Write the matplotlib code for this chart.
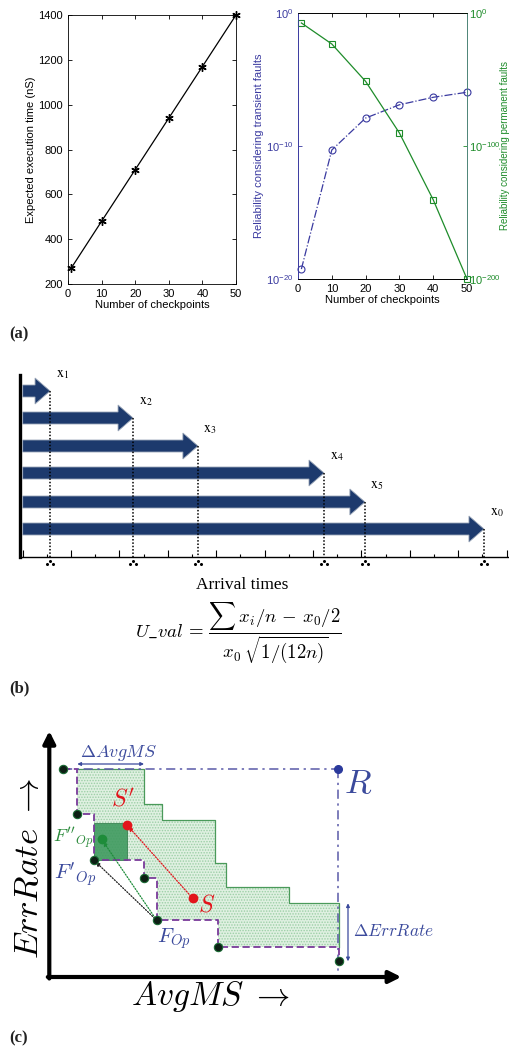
import numpy as np
import matplotlib
matplotlib.use("Agg")
import matplotlib.pyplot as plt
from matplotlib.patches import FancyArrow, Polygon, Rectangle
from matplotlib.ticker import FixedLocator, NullLocator, LogFormatterSciNotation

plt.rcParams["font.family"] = ["Liberation Sans", "DejaVu Sans"]
plt.rcParams["font.size"] = 8
plt.rcParams["mathtext.fontset"] = "custom"
plt.rcParams["mathtext.rm"] = "Liberation Sans"
plt.rcParams["mathtext.it"] = "Liberation Sans:italic"
plt.rcParams["hatch.linewidth"] = 0.7

# ---------------- data: panel (a) ----------------
checkpoints = [1, 10, 20, 30, 40, 50]
exec_time_ns = [272, 480, 710, 940, 1170, 1400]
rel_transient = [5.6e-20, 5.0e-11, 1.26e-8, 1.26e-7, 4.6e-7, 1.1e-6]
rel_permanent = [3.2e-8, 5.0e-24, 4.0e-52, 6.3e-91, 4.0e-141, 1e-200]

# ---------------- data: panel (b) ----------------
arrival_labels = ["1", "2", "3", "4", "5", "0"]
arrival_times = [1.13, 4.56, 7.24, 12.45, 14.14, 19.06]

# ---------------- data: panel (c) ----------------
front_ms = [1.40, 2.80, 4.44, 9.47, 10.74, 16.90, 29.0]
front_err = [20.77, 16.27, 11.70, 9.93, 5.67, 3.03, 1.57]
bound_ms = [2.80, 9.47, 11.24, 16.57, 17.64, 24.0, 29.0]
bound_err = [20.77, 17.3, 15.7, 11.37, 9.03, 7.37, 3.03]
ref_point = (28.9, 20.77)
sol_S = (14.34, 7.87)
sol_S2 = (7.74, 15.23)
sol_F2 = (5.24, 13.77)

W, H = 510, 1049
fig = plt.figure(figsize=(W / 100, H / 100), dpi=100)


def px_rect(x0, y0, x1, y1):
    return [x0 / W, 1 - y1 / H, (x1 - x0) / W, (y1 - y0) / H]


BLUE = "#3a3aa0"
GREEN = "#1e8c2a"

# ---------- (a) left: execution time ----------
ax1 = fig.add_axes(px_rect(68, 15, 236, 284))
ax1.plot(checkpoints, exec_time_ns, color="k", lw=0.9, marker=(6, 2, 0),
         markersize=6, markeredgewidth=1.0, clip_on=False)
ax1.set_xlim(0, 50)
ax1.set_ylim(200, 1400)
ax1.set_xticks(range(0, 51, 10))
ax1.set_yticks(range(200, 1401, 200))
ax1.tick_params(direction="in", length=3, top=True, right=True, width=0.6, labelsize=8)
ax1.set_xlabel("Number of checkpoints", fontsize=8, labelpad=1)
ax1.set_ylabel("Expected execution time (nS)", fontsize=8, labelpad=2)
for s in ax1.spines.values():
    s.set_linewidth(0.6)

# ---------- (a) right: reliability ----------
ax2 = fig.add_axes(px_rect(298, 13, 467, 279))
ax3 = ax2.twinx()
ax2.plot(checkpoints, rel_transient, color=BLUE, lw=0.9, ls="-.", marker="o",
         markersize=5, markerfacecolor="none", markeredgewidth=0.8, clip_on=False)
ax3.plot(checkpoints, rel_permanent, color=GREEN, lw=0.9, ls="-", marker="s",
         markersize=4.5, markerfacecolor="none", markeredgewidth=0.8, clip_on=False)
ax2.set_yscale("log")
ax3.set_yscale("log")
ax2.set_xlim(0, 50)
ax2.set_ylim(1e-20, 1e0)
ax3.set_ylim(1e-200, 1e0)
ax2.set_xticks(range(0, 51, 10))
ax2.yaxis.set_major_locator(FixedLocator([1e-20, 1e-10, 1e0]))
ax3.yaxis.set_major_locator(FixedLocator([1e-200, 1e-100, 1e0]))
for a in (ax2, ax3):
    a.yaxis.set_minor_locator(NullLocator())
    a.yaxis.set_major_formatter(LogFormatterSciNotation())
ax2.tick_params(axis="x", direction="in", length=3, top=True, width=0.6, labelsize=8)
ax2.tick_params(axis="y", direction="in", length=3, width=0.6, colors=BLUE, labelsize=8)
ax3.tick_params(axis="y", direction="in", length=3, width=0.6, colors=GREEN,
                labelsize=8, pad=1.5)
ax2.set_xlabel("Number of checkpoints", fontsize=8, labelpad=1)
ax2.set_ylabel("Reliability considering transient faults", fontsize=8, color=BLUE, labelpad=1)
ax3.set_ylabel("Reliability considering permanent faults", fontsize=7, color=GREEN)
ax3.yaxis.set_label_coords(1.0 + 33 / 169, 0.5)
for a in (ax2, ax3):
    for s in a.spines.values():
        s.set_linewidth(0.6)
ax3.spines["left"].set_color(BLUE)
ax3.spines["right"].set_color("#5a9a8a")
ax2.spines["left"].set_color(BLUE)

# ---------- (b) arrival-time arrows ----------
axb = fig.add_axes(px_rect(20, 375, 508, 557))
px_per_unit = 24.2
axb.set_xlim(-2.7 / px_per_unit, 485.3 / px_per_unit)
axb.set_ylim(0, 182)
axb.patch.set_visible(False)
for side in ("top", "right"):
    axb.spines[side].set_visible(False)
axb.spines["left"].set_linewidth(2.4)
axb.spines["bottom"].set_linewidth(1.0)
axb.set_xticks(range(0, 21, 2))
axb.set_xticks(range(1, 21, 2), minor=True)
axb.set_yticks([])
axb.tick_params(axis="x", which="major", direction="in", length=5, width=0.8, labelbottom=False)
axb.tick_params(axis="x", which="minor", direction="in", length=2.5, width=0.8)

row_y = [166, 139, 111, 84, 55, 28]
head_len = 15 / px_per_unit
for lab, t, yy in zip(arrival_labels, arrival_times, row_y):
    axb.add_patch(FancyArrow(0.0, yy, t, 0, width=12, head_width=26, head_length=head_len,
                             length_includes_head=True, facecolor="#1d3a6d",
                             edgecolor="#9aa6b8", lw=0.6, zorder=3))
    axb.plot([t, t], [yy, 0], ls=(0, (1, 1.2)), color="k", lw=1.1, zorder=4)
    axb.plot([t - 0.12, t, t + 0.12], [-7, -4, -7], ls="none", marker="o",
             markersize=1.2, color="k", clip_on=False)
    axb.annotate(r"$\mathrm{x}_{%s}$" % lab, (t, yy), xytext=(4, 7),
                 textcoords="offset points", ha="left", va="bottom",
                 fontsize=10, math_fontfamily="stix")

fig.text(242 / W, 1 - 585 / H, "Arrival times", family="Liberation Serif",
         fontsize=12.5, ha="center", va="center")
fig.text(238 / W, 1 - 633 / H,
         r"$U\_val\,=\,\dfrac{\sum\, x_i/n\,-\,x_0/2}{x_0\,\sqrt{1/(12n)}}$",
         fontsize=13.5, ha="center", va="center", math_fontfamily="cm")

# ---------- (c) Pareto front diagram ----------
axc = fig.add_axes(px_rect(0, 720, 510, 1049))
axc.set_xlim(-4.93, 46.07)
axc.set_ylim(-7.2, 25.7)
axc.axis("off")

LBLUE = "#3b4a9c"
PURPLE = "#7a3a9a"
LGREEN = "#4a9a5a"
RED = "#e3141c"


def stairs(xs, ys):
    px, py = [xs[0]], [ys[0]]
    for i in range(1, len(xs)):
        px += [xs[i], xs[i]]
        py += [ys[i - 1], ys[i]]
    return px, py


ux, uy = stairs(bound_ms, bound_err)
fx, fy = stairs(front_ms[1:], front_err[1:])
poly = list(zip(ux, uy)) + list(zip(fx[::-1], fy[::-1]))
axc.add_patch(Polygon(poly, closed=True, facecolor="#dff0e1", edgecolor="#9ccfa6",
                      hatch="......", lw=0, zorder=1))
axc.plot(ux, uy, color=LGREEN, lw=0.9, zorder=2)
axc.add_patch(Rectangle((front_ms[2], front_err[2]), sol_S2[0] - front_ms[2],
                        sol_S2[1] + 0.14 - front_err[2], facecolor="#3f9a5f",
                        edgecolor="#2f7a48", lw=0.6, alpha=0.9, zorder=2))

# reference point and its dash-dot bounds
axc.plot([front_ms[0], ref_point[0]], [ref_point[1], ref_point[1]], color="#5a5aa8",
         lw=1.1, ls=(0, (6, 3, 1.5, 3)), zorder=2)
axc.plot([ref_point[0], ref_point[0]], [ref_point[1], 0], color="#5a5aa8",
         lw=1.1, ls=(0, (6, 3, 1.5, 3)), zorder=2)
axc.plot(*ref_point, "o", color="#2b3a9c", markersize=5.5, zorder=5)

# attainment staircase of the front
sx, sy = stairs(front_ms, front_err)
axc.plot(sx, sy, color=PURPLE, lw=1.3, ls=(0, (4, 2)), zorder=3)
axc.plot(front_ms, front_err, "o", markersize=6, markerfacecolor="#0d1f14",
         markeredgecolor="#1a6a34", markeredgewidth=0.8, zorder=6)

# moves between solutions
arrow_kw = dict(arrowstyle="-|>", lw=0.9, ls=(0, (1, 1.3)), shrinkA=2, shrinkB=2,
                mutation_scale=6)
axc.annotate("", xy=sol_S2, xytext=sol_S, arrowprops=dict(color=RED, **arrow_kw), zorder=4)
axc.annotate("", xy=sol_F2, xytext=(front_ms[4], front_err[4]),
             arrowprops=dict(color="#1e8c3a", **arrow_kw), zorder=4)
axc.annotate("", xy=(front_ms[2], front_err[2]), xytext=(front_ms[4], front_err[4]),
             arrowprops=dict(color="#222222", **arrow_kw), zorder=4)
axc.plot(*sol_S, "o", color=RED, markersize=6, zorder=6)
axc.plot(*sol_S2, "o", color=RED, markersize=6, zorder=6)
axc.plot(*sol_F2, "o", color="#1e8c3a", markersize=6, zorder=6)

# delta markers
axc.annotate("", xy=(front_ms[1], 21.3), xytext=(bound_ms[1], 21.3),
             arrowprops=dict(arrowstyle="<|-|>", color=LBLUE, lw=0.9, mutation_scale=5,
                             shrinkA=0, shrinkB=0))
axc.annotate("", xy=(29.87, bound_err[-2]), xytext=(29.87, front_err[-1]),
             arrowprops=dict(arrowstyle="<|-|>", color=LBLUE, lw=0.9, mutation_scale=5,
                             shrinkA=0, shrinkB=0))

# axes arrows
axc.annotate("", xy=(0, 24.6), xytext=(0, -0.15),
             arrowprops=dict(arrowstyle="-|>", color="k", lw=3, mutation_scale=18,
                             shrinkA=0, shrinkB=0))
axc.annotate("", xy=(35.2, 0), xytext=(-0.15, 0),
             arrowprops=dict(arrowstyle="-|>", color="k", lw=3, mutation_scale=18,
                             shrinkA=0, shrinkB=0))

tk = dict(math_fontfamily="cm", ha="center", va="center")
axc.text(7.4, 17.7, r"$S'$", color=RED, fontsize=17, **tk)
axc.text(15.74, 7.2, r"$S$", color=RED, fontsize=17, **tk)
axc.text(2.35, 13.87, r"$F''_{Op}$", color="#2a8a3a", fontsize=13, **tk)
axc.text(2.57, 10.2, r"$F'_{Op}$", color=LBLUE, fontsize=15, **tk)
axc.text(12.47, 3.87, r"$F_{Op}$", color=LBLUE, fontsize=15, **tk)
axc.text(30.9, 19.37, r"$R$", color=LBLUE, fontsize=25, **tk)
axc.text(6.9, 22.37, r"$\Delta AvgMS$", color=LBLUE, fontsize=13, **tk)
axc.text(34.4, 4.63, r"$\Delta ErrRate$", color=LBLUE, fontsize=12.5, **tk)
axc.text(-2.1, 10.87, r"$ErrRate\ \rightarrow$", color="k", fontsize=25, rotation=90, **tk)
axc.text(16.07, -1.97, r"$AvgMS\ \rightarrow$", color="k", fontsize=24, **tk)

# panel letters
for lab, yy in (("(a)", 334), ("(b)", 688), ("(c)", 1038)):
    fig.text(9 / W, 1 - yy / H, lab, family="Liberation Serif", fontweight="bold",
             fontsize=12, ha="left", va="center", color="#222222")

fig.savefig("out.png", dpi=100)
